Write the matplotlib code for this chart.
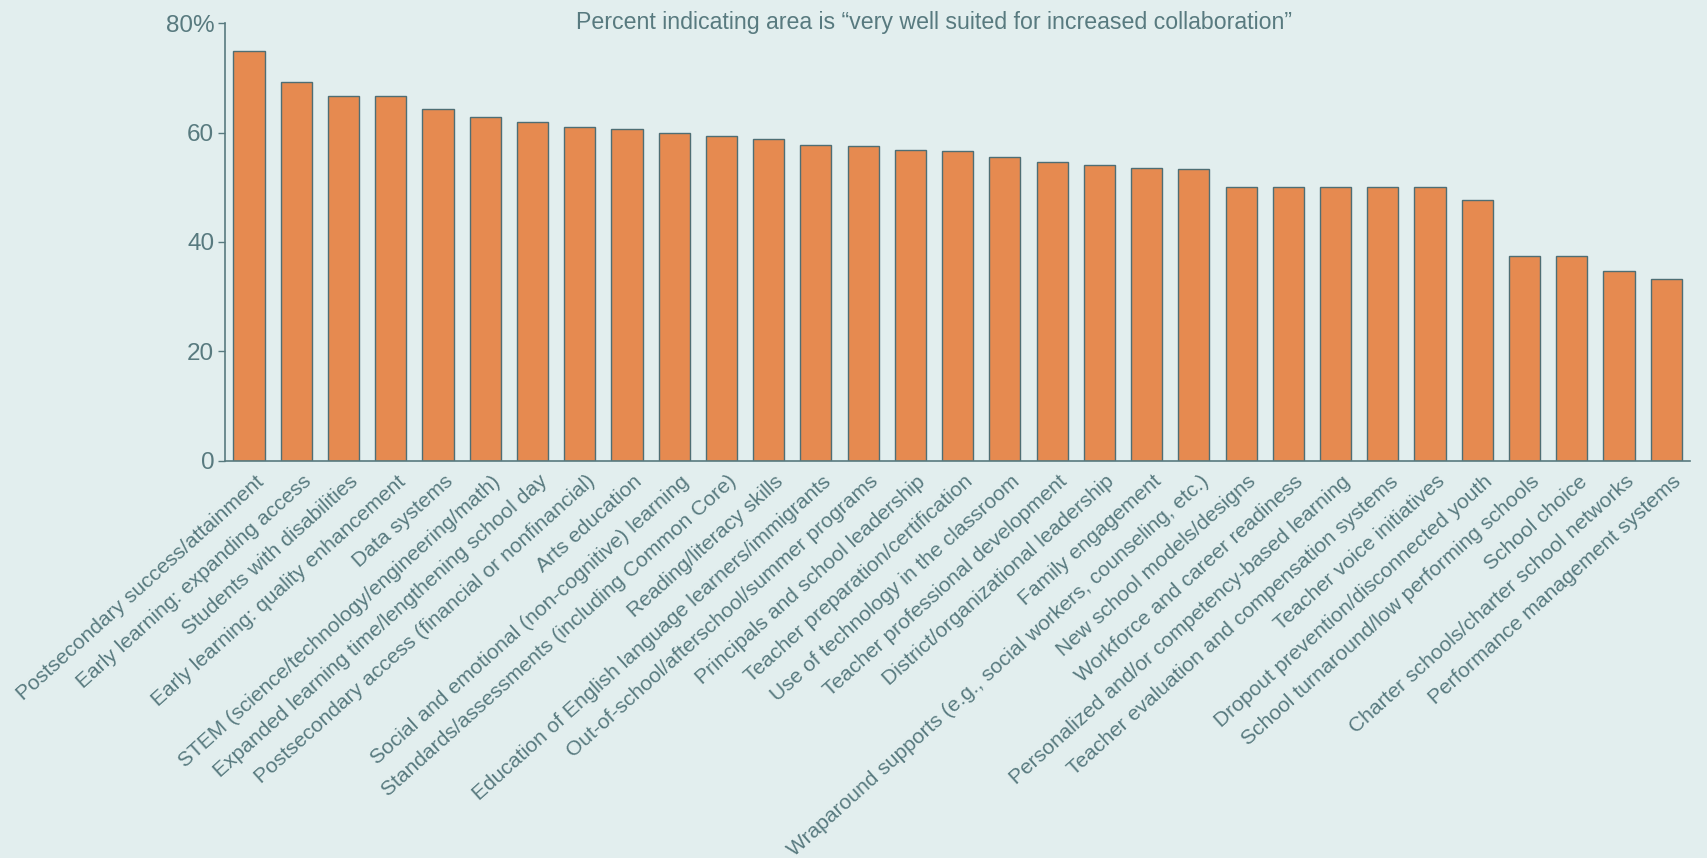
import matplotlib
matplotlib.use("Agg")
import matplotlib.pyplot as plt
import matplotlib.transforms as mtransforms
import numpy as np

categories = [
    "Postsecondary success/attainment",
    "Early learning: expanding access",
    "Students with disabilities",
    "Early learning: quality enhancement",
    "Data systems",
    "STEM (science/technology/engineering/math)",
    "Expanded learning time/lengthening school day",
    "Postsecondary access (financial or nonfinancial)",
    "Arts education",
    "Social and emotional (non-cognitive) learning",
    "Standards/assessments (including Common Core)",
    "Reading/literacy skills",
    "Education of English language learners/immigrants",
    "Out-of-school/afterschool/summer programs",
    "Principals and school leadership",
    "Teacher preparation/certification",
    "Use of technology in the classroom",
    "Teacher professional development",
    "District/organizational leadership",
    "Family engagement",
    "Wraparound supports (e.g., social workers, counseling, etc.)",
    "New school models/designs",
    "Workforce and career readiness",
    "Personalized and/or competency-based learning",
    "Teacher evaluation and compensation systems",
    "Teacher voice initiatives",
    "Dropout prevention/disconnected youth",
    "School turnaround/low performing schools",
    "School choice",
    "Charter schools/charter school networks",
    "Performance management systems",
]
values = [75.0, 69.3, 66.7, 66.7, 64.3, 62.9, 61.9, 61.1, 60.7, 60.0, 59.4,
          58.9, 57.8, 57.5, 56.9, 56.7, 55.6, 54.7, 54.1, 53.5, 53.3, 50.0,
          50.0, 50.0, 50.0, 50.0, 47.6, 37.5, 37.5, 34.6, 33.3]
yticks = [0, 20, 40, 60, 80]
ytick_labels = ["0", "20", "40", "60", "80%"]
title = "Percent indicating area is \u201cvery well suited for increased collaboration\u201d"

bg = "#E2EEEE"
txt = "#587A7F"
bar_color = "#E68A50"
edge = "#4E6E74"

plt.rcParams['font.family'] = ['Liberation Sans', 'DejaVu Sans']

fig = plt.figure(figsize=(17.07, 8.58), dpi=100, facecolor=bg)
ax = fig.add_axes([0.132, 0.463, 0.858, 0.510])
ax.set_facecolor(bg)

x = np.arange(len(categories))
ax.bar(x, values, width=0.66, color=bar_color, edgecolor=edge, linewidth=1.0)

ax.set_xlim(-0.5, len(categories) - 0.5)
ax.set_ylim(0, 80)
ax.set_yticks(yticks)
ax.set_yticklabels(ytick_labels, fontsize=17.5, color=txt)
ax.set_xticks(x)
ax.set_xticklabels(categories, rotation=42, ha='right', rotation_mode='anchor',
                   fontsize=15.1, color=txt)
ax.tick_params(axis='x', length=0, pad=8)
ax.tick_params(axis='y', length=5, width=1, color=txt, pad=3)

offset = mtransforms.ScaledTranslation(6 / 100, 0, fig.dpi_scale_trans)
for lab in ax.get_xticklabels():
    lab.set_transform(lab.get_transform() + offset)

for s in ['top', 'right']:
    ax.spines[s].set_visible(False)
for s in ['left', 'bottom']:
    ax.spines[s].set_color(txt)
    ax.spines[s].set_linewidth(1.2)

fig.text(0.547, 0.974, title, ha='center', va='center', fontsize=16.7, color=txt)

fig.savefig("out.png", dpi=100, facecolor=bg)
